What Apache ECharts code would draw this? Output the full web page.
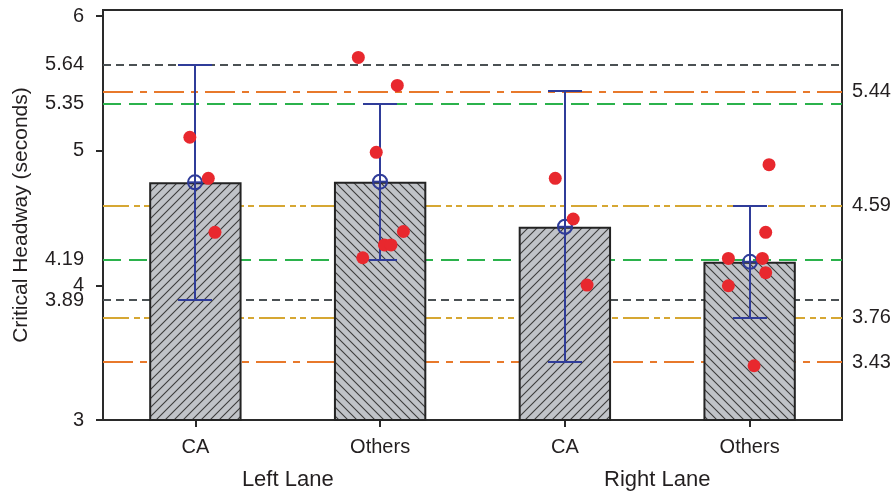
<!DOCTYPE html>
<html>
<head>
<meta charset="utf-8">
<script src="https://cdn.jsdelivr.net/npm/echarts@6/dist/echarts.min.js"></script>
<style>
  html, body { margin: 0; padding: 0; background: #fff; }
  #chart { width: 896px; height: 496px; }
</style>
</head>
<body>
<div id="chart"></div>
<script>
// Critical headway by driver group and lane
const categories = ['CA', 'Others', 'CA', 'Others'];
const lanes = ['Left Lane', 'Right Lane'];
const meanHeadway = [4.765, 4.77, 4.435, 4.175];
const upperBound = [5.64, 5.35, 5.44, 4.59];
const lowerBound = [3.89, 4.19, 3.43, 3.76];

const leftTickLabels = [3, 3.89, 4, 4.19, 5, 5.35, 5.64, 6];
const leftTickMarks = [3, 4, 5, 6];
const rightTickLabels = [3.43, 3.76, 4.59, 5.44];

// individual observations: [offset within the category band, headway in seconds]
const obsLeftCA = [[-0.03, 5.10], [0.07, 4.795], [0.106, 4.394]];
const obsLeftOthers = [[-0.118, 5.693], [0.093, 5.485], [-0.021, 4.988], [0.126, 4.40], [0.023, 4.30], [0.059, 4.30], [-0.094, 4.205]];
const obsRightCA = [[-0.052, 4.795], [0.045, 4.493], [0.12, 4.002]];
const obsRightOthers = [[0.105, 4.896], [0.087, 4.394], [-0.115, 4.20], [0.069, 4.20], [0.087, 4.094], [-0.115, 3.997], [0.024, 3.403]];

const Y_MIN = 3, Y_MAX = 6.045;
const FONT = '"Liberation Sans", Arial, Helvetica, sans-serif';
const INK = '#231f20';
const BLUE = '#2f3c99';

// bound-line styles, one per group
const boundStyles = [
  { color: '#4b5154', type: [8, 5] },
  { color: '#2bb24c', type: [18, 8] },
  { color: '#e8792b', type: [30, 7, 7, 7] },
  { color: '#d6a733', type: [26, 5, 6, 4, 6, 5] }
];

// diagonal hatch fill for the bars
function hatch(forward) {
  const s = 9;
  const c = document.createElement('canvas');
  c.width = s; c.height = s;
  const g = c.getContext('2d');
  g.fillStyle = '#c0c3c8';
  g.fillRect(0, 0, s, s);
  g.strokeStyle = '#3c3c3c';
  g.lineWidth = 1.1;
  g.beginPath();
  if (forward) {
    g.moveTo(-1, s + 1); g.lineTo(s + 1, -1);
    g.moveTo(-1, 1); g.lineTo(1, -1);
    g.moveTo(s - 1, s + 1); g.lineTo(s + 1, s - 1);
  } else {
    g.moveTo(-1, -1); g.lineTo(s + 1, s + 1);
    g.moveTo(s - 1, -1); g.lineTo(s + 1, 1);
    g.moveTo(-1, s - 1); g.lineTo(1, s + 1);
  }
  g.stroke();
  return { image: c, repeat: 'repeat' };
}

const barData = meanHeadway.map((v, i) => ({
  value: v,
  itemStyle: { color: hatch(categories[i] === 'CA') }
}));

const boundLines = [];
lowerBound.forEach((lo, i) => {
  [lo, upperBound[i]].forEach(v => {
    boundLines.push({
      yAxis: v,
      lineStyle: { color: boundStyles[i].color, type: boundStyles[i].type, width: 1.8 }
    });
  });
});

const errorData = meanHeadway.map((m, i) => [i, lowerBound[i], upperBound[i], m]);

const observations = [obsLeftCA, obsLeftOthers, obsRightCA, obsRightOthers];
const scatterData = [];
observations.forEach((grp, i) => grp.forEach(([dx, v]) => scatterData.push([i + 0.5 + dx, v])));

const chart = echarts.init(document.getElementById('chart'), null, { renderer: 'canvas' });

const axisText = { fontFamily: FONT, fontSize: 20, color: INK };

chart.setOption({
  animation: false,
  backgroundColor: '#fff',
  grid: {
    left: 103, right: 54, top: 10, bottom: 76,
    show: true, borderColor: '#2a2a2a', borderWidth: 2, backgroundColor: 'transparent'
  },
  xAxis: [
    {
      type: 'category', data: categories, position: 'bottom',
      axisLine: { lineStyle: { color: '#2a2a2a', width: 2 } },
      axisTick: { show: true, alignWithLabel: true, length: 7, lineStyle: { color: '#2a2a2a', width: 2 } },
      axisLabel: Object.assign({ margin: 17, interval: 0 }, axisText),
      splitLine: { show: false }
    },
    {
      type: 'value', min: 0, max: 4, show: false
    },
    {
      type: 'category', data: lanes, position: 'bottom',
      axisLine: { show: false }, axisTick: { show: false },
      axisLabel: Object.assign({}, axisText, { margin: 49, interval: 0, fontSize: 22 }),
      splitLine: { show: false }
    }
  ],
  yAxis: [
    {
      type: 'value', min: Y_MIN, max: Y_MAX, position: 'left',
      name: 'Critical Headway (seconds)', nameLocation: 'middle', nameGap: 71,
      nameTextStyle: { fontFamily: FONT, fontSize: 21, color: INK },
      axisLine: { show: true, lineStyle: { color: '#2a2a2a', width: 2 } },
      axisTick: { show: true, length: 7, customValues: leftTickMarks, lineStyle: { color: '#2a2a2a', width: 2 } },
      axisLabel: Object.assign({ margin: 19, customValues: leftTickLabels, hideOverlap: false }, axisText),
      splitLine: { show: false }
    },
    {
      type: 'value', min: Y_MIN, max: Y_MAX, position: 'right',
      axisLine: { show: true, lineStyle: { color: '#2a2a2a', width: 2 } },
      axisTick: { show: false },
      axisLabel: Object.assign({ margin: 10, customValues: rightTickLabels }, axisText),
      splitLine: { show: false }
    }
  ],
  series: [
    {
      name: 'bounds', type: 'line', data: [], z: 1,
      markLine: {
        z: 1,
        silent: true, symbol: ['none', 'none'], label: { show: false },
        data: boundLines
      }
    },
    {
      name: 'mean', type: 'bar', data: barData, barWidth: '50%', z: 2,
      itemStyle: { borderColor: '#232323', borderWidth: 2 }
    },
    {
      name: 'interval', type: 'custom', data: errorData, z: 6,
      encode: { x: 0, y: [1, 2, 3] },
      renderItem(params, api) {
        const i = api.value(0);
        const top = api.coord([i, api.value(2)]);
        const bot = api.coord([i, api.value(1)]);
        const mid = api.coord([i, api.value(3)]);
        // snap strokes to whole pixels so 2px lines stay crisp
        const x = Math.round(top[0]);
        const yt = Math.round(top[1]);
        const yb = Math.round(bot[1]);
        const cap = 17, r = 7;
        const st = { stroke: BLUE, lineWidth: 2, fill: null };
        return {
          type: 'group',
          children: [
            { type: 'line', shape: { x1: x, y1: yt, x2: x, y2: yb }, style: st },
            { type: 'line', shape: { x1: x - cap, y1: yt, x2: x + cap, y2: yt }, style: st },
            { type: 'line', shape: { x1: x - cap, y1: yb, x2: x + cap, y2: yb }, style: st },
            { type: 'circle', shape: { cx: x, cy: mid[1], r: r }, style: { stroke: BLUE, lineWidth: 2, fill: 'rgba(0,0,0,0)' } },
            { type: 'line', shape: { x1: x - r, y1: mid[1], x2: x + r, y2: mid[1] }, style: st }
          ]
        };
      }
    },
    {
      name: 'observations', type: 'scatter', xAxisIndex: 1, yAxisIndex: 0, z: 7,
      data: scatterData, symbol: 'circle', symbolSize: 13,
      itemStyle: { color: '#e8282e', opacity: 1 }
    }
  ]
});
</script>
</body>
</html>
